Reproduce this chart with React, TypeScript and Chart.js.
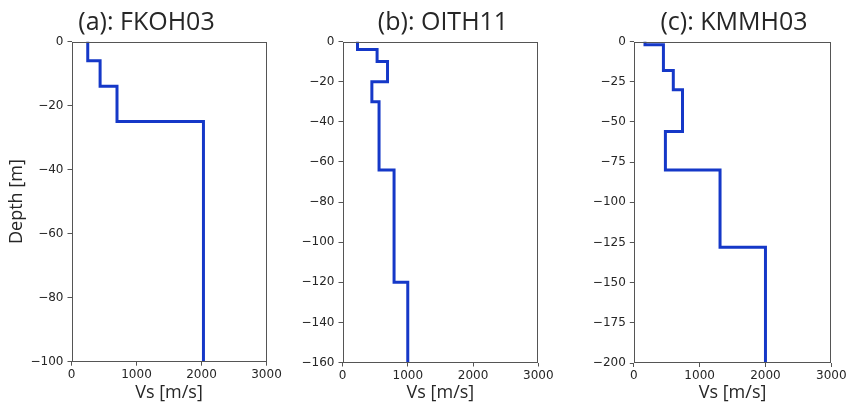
import React, { useEffect, useRef } from 'react';
import { Chart, registerables } from 'chart.js';

Chart.register(...registerables);

// ---- data ----
const vsTicks = [0, 1000, 2000, 3000];

const titles = ['(a): FKOH03', '(b): OITH11', '(c): KMMH03'];

const fkohVs = [250, 440, 700, 2030];
const fkohDepth = [0, -6, -14, -25, -100];
const fkohTicks = [0, -20, -40, -60, -80, -100];

const oithVs = [230, 530, 690, 450, 560, 790, 1000];
const oithDepth = [0, -4, -10, -20, -30, -64, -120, -160];
const oithTicks = [0, -20, -40, -60, -80, -100, -120, -140, -160];

const kmmhVs = [170, 450, 600, 740, 480, 1310, 2000];
const kmmhDepth = [0, -2, -18, -30, -56, -80, -128, -200];
const kmmhTicks = [0, -25, -50, -75, -100, -125, -150, -175, -200];

// ---- helpers ----
const TEXT = '#262626';
const SPINE = '#555555';
const LINE = '#1538c8';
const H = 407;

function profile(vs: number[], depth: number[]) {
  const pts: { x: number; y: number }[] = [];
  vs.forEach((v, i) => {
    pts.push({ x: v, y: depth[i] });
    pts.push({ x: v, y: depth[i + 1] });
  });
  return pts;
}

const fmt = (v: number) => (v < 0 ? '\u2212' + Math.abs(v) : String(v));

const framePlugin = {
  id: 'frame',
  afterDraw(chart: any) {
    const { ctx, chartArea: a } = chart;
    ctx.save();
    ctx.strokeStyle = SPINE;
    ctx.lineWidth = 1;
    const l = Math.round(a.left) + 0.5;
    const t = Math.round(a.top) + 0.5;
    const r = Math.round(a.right) - 0.5;
    const b = Math.round(a.bottom) - 0.5;
    ctx.strokeRect(l, t, r - l, b - t);
    ctx.restore();
  },
};

const titlePlugin = {
  id: 'panelTitle',
  afterDraw(chart: any, _args: any, opts: any) {
    const { ctx } = chart;
    ctx.save();
    ctx.font = '25px "Open Sans"';
    ctx.fillStyle = TEXT;
    ctx.textAlign = 'center';
    ctx.textBaseline = 'middle';
    ctx.fillText(opts.text, opts.x, opts.y);
    ctx.restore();
  },
};

type PanelProps = {
  left: number;
  width: number;
  plotLeft: number;
  plotRight: number;
  plotBottom: number;
  titleX: number;
  title: string;
  vs: number[];
  depth: number[];
  yTicks: number[];
  yTitle?: string;
};

function Panel(p: PanelProps) {
  const ref = useRef<HTMLCanvasElement | null>(null);
  useEffect(() => {
    let chart: Chart | null = null;
    let cancelled = false;
    const make = () => {
      if (cancelled || !ref.current) return;
      const yWidth = p.plotLeft - p.left;
      const xHeight = H - p.plotBottom;
      chart = new Chart(ref.current, {
        type: 'line',
        data: {
          datasets: [
            {
              data: profile(p.vs, p.depth),
              borderColor: LINE,
              borderWidth: 3,
              pointRadius: 0,
              fill: false,
              tension: 0,
            },
          ],
        },
        options: {
          animation: false,
          responsive: false,
          devicePixelRatio: 1,
          events: [],
          layout: {
            padding: { top: 41.5, left: 0, bottom: 0, right: p.left + p.width - p.plotRight },
          },
          plugins: {
            legend: { display: false },
            tooltip: { enabled: false },
            title: { display: false },
            panelTitle: { text: p.title, x: p.titleX - p.left, y: 23.2 },
          } as any,
          scales: {
            x: {
              type: 'linear',
              min: vsTicks[0],
              max: vsTicks[vsTicks.length - 1],
              afterBuildTicks: (s: any) => {
                s.ticks = vsTicks.map((v) => ({ value: v }));
              },
              afterFit: (s: any) => {
                s.height = xHeight;
              },
              border: { display: false },
              grid: {
                drawOnChartArea: false,
                drawTicks: true,
                tickLength: 4,
                tickColor: SPINE,
                lineWidth: 1,
              },
              ticks: {
                color: TEXT,
                font: { family: '"DejaVu Sans"', size: 12 },
                padding: 2,
                maxRotation: 0,
                autoSkip: false,
                callback: (v: any) => fmt(Number(v)),
              },
              title: {
                display: true,
                text: 'Vs [m/s]',
                color: TEXT,
                font: { family: '"Open Sans"', size: 18 },
                padding: { top: 0, bottom: 3.4 },
              },
            },
            y: {
              type: 'linear',
              min: Math.min(...p.yTicks),
              max: Math.max(...p.yTicks),
              afterBuildTicks: (s: any) => {
                s.ticks = p.yTicks.slice().sort((a, b) => a - b).map((v) => ({ value: v }));
              },
              afterFit: (s: any) => {
                s.width = yWidth;
              },
              border: { display: false },
              grid: {
                drawOnChartArea: false,
                drawTicks: true,
                tickLength: 4,
                tickColor: SPINE,
                lineWidth: 1,
              },
              ticks: {
                color: TEXT,
                font: { family: '"DejaVu Sans"', size: 12 },
                padding: 4,
                autoSkip: false,
                callback: (v: any) => fmt(Number(v)),
              },
              title: {
                display: !!p.yTitle,
                text: p.yTitle || '',
                color: TEXT,
                font: { family: '"Open Sans"', size: 18 },
                padding: { top: 6.2, bottom: 0 },
              },
            },
          },
        },
        plugins: [framePlugin, titlePlugin],
      } as any);
    };
    const fonts = (document as any).fonts;
    if (fonts && fonts.load) {
      Promise.all([
        fonts.load('25px "Open Sans"'),
        fonts.load('18px "Open Sans"'),
        fonts.load('12px "DejaVu Sans"'),
      ])
        .catch(() => null)
        .then(make);
    } else {
      make();
    }
    return () => {
      cancelled = true;
      if (chart) chart.destroy();
    };
  }, []);
  return (
    <canvas
      ref={ref}
      width={p.width}
      height={H}
      style={{ position: 'absolute', left: p.left, top: 0, width: p.width, height: H }}
    />
  );
}

export default function App() {
  return (
    <div
      style={{
        position: 'fixed',
        left: 0,
        top: 0,
        width: 846,
        height: H,
        overflow: 'hidden',
        background: '#ffffff',
      }}
    >
      <Panel
        left={0}
        width={292}
        plotLeft={71.5}
        plotRight={266.5}
        plotBottom={361.7}
        titleX={146.5}
        title={titles[0]}
        vs={fkohVs}
        depth={fkohDepth}
        yTicks={fkohTicks}
        yTitle="Depth [m]"
      />
      <Panel
        left={300}
        width={290}
        plotLeft={342.5}
        plotRight={538.3}
        plotBottom={362.5}
        titleX={443}
        title={titles[1]}
        vs={oithVs}
        depth={oithDepth}
        yTicks={oithTicks}
      />
      <Panel
        left={585}
        width={290}
        plotLeft={633.8}
        plotRight={831.3}
        plotBottom={363}
        titleX={734}
        title={titles[2]}
        vs={kmmhVs}
        depth={kmmhDepth}
        yTicks={kmmhTicks}
      />
    </div>
  );
}
